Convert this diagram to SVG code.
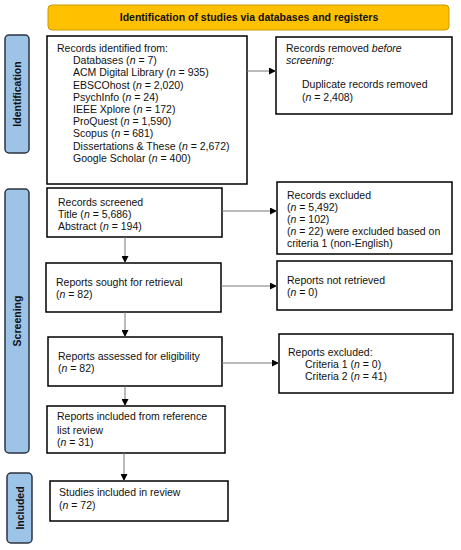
<svg xmlns="http://www.w3.org/2000/svg" width="461" height="550" viewBox="0 0 461 550">
<defs>
<marker id="ah" viewBox="0 0 10 10" refX="10" refY="5" markerWidth="7" markerHeight="7" markerUnits="userSpaceOnUse" orient="auto"><path d="M0,0 L10,5 L0,10 z" fill="#000"/></marker>
<style>
.box{fill:#fff;stroke:#000;stroke-width:1.5}
.side{fill:#9DC3E6;stroke:#2B3440;stroke-width:1.5}
.hdr{fill:#FFC000;stroke:#C99A00;stroke-width:1}
text{font-family:"Liberation Sans",Arial,sans-serif;font-size:10.5px;fill:#111}
.b{font-weight:bold}
.con{stroke:#777;stroke-width:1;fill:none;marker-end:url(#ah)}
</style>
</defs>
<rect width="461" height="550" fill="#fff"/>
<g id="header"><rect class="hdr" x="48" y="5" width="401" height="25" rx="4"/><text class="b" x="249" y="21" text-anchor="middle">Identification of studies via databases and registers</text></g>
<g id="label-identification"><rect class="side" x="5" y="35" width="24" height="118" rx="4"/><text class="b" transform="translate(21,94) rotate(-90)" text-anchor="middle">Identification</text></g>
<g id="label-screening"><rect class="side" x="5" y="189" width="24" height="264" rx="4"/><text class="b" transform="translate(21,321) rotate(-90)" text-anchor="middle">Screening</text></g>
<g id="label-included"><rect class="side" x="7" y="473" width="25" height="70" rx="4"/><text class="b" transform="translate(23.5,508) rotate(-90)" text-anchor="middle">Included</text></g>
<g id="identified"><rect class="box" x="47" y="36" width="200" height="148"/>
<text x="57" y="52">Records identified from:</text>
<text x="73" y="64.2">Databases (<tspan font-style="italic">n</tspan> = 7)</text>
<text x="73" y="76.4">ACM Digital Library (<tspan font-style="italic">n</tspan> = 935)</text>
<text x="73" y="88.6">EBSCOhost (<tspan font-style="italic">n</tspan> = 2,020)</text>
<text x="73" y="100.8">PsychInfo (<tspan font-style="italic">n</tspan> = 24)</text>
<text x="73" y="113">IEEE Xplore (<tspan font-style="italic">n</tspan> = 172)</text>
<text x="73" y="125.2">ProQuest (<tspan font-style="italic">n</tspan> = 1,590)</text>
<text x="73" y="137.4">Scopus (<tspan font-style="italic">n</tspan> = 681)</text>
<text x="73" y="149.6">Dissertations &amp; These (<tspan font-style="italic">n</tspan> = 2,672)</text>
<text x="73" y="161.8">Google Scholar (<tspan font-style="italic">n</tspan> = 400)</text>
</g>
<g id="removed"><rect class="box" x="276" y="37" width="176" height="77"/>
<text x="286" y="52">Records removed <tspan font-style="italic">before</tspan></text>
<text x="286" y="64" font-style="italic">screening:</text>
<text x="302" y="88">Duplicate records removed</text>
<text x="302" y="100.5">(<tspan font-style="italic">n</tspan> = 2,408)</text>
</g>
<g id="screened"><rect class="box" x="47" y="188" width="175" height="49"/>
<text x="58" y="205.5">Records screened</text>
<text x="58" y="217.5">Title (<tspan font-style="italic">n</tspan> = 5,686)</text>
<text x="58" y="229.5">Abstract (<tspan font-style="italic">n</tspan> = 194)</text>
</g>
<g id="excluded"><rect class="box" x="277" y="182" width="175" height="72"/>
<text x="287" y="199">Records excluded</text>
<text x="287" y="211">(<tspan font-style="italic">n</tspan> = 5,492)</text>
<text x="287" y="223">(<tspan font-style="italic">n</tspan> = 102)</text>
<text x="287" y="235">(<tspan font-style="italic">n</tspan> = 22) were excluded based on</text>
<text x="287" y="247">criteria 1 (non-English)</text>
</g>
<g id="sought"><rect class="box" x="46" y="263" width="175" height="49"/>
<text x="56" y="285.5">Reports sought for retrieval</text>
<text x="56" y="298">(<tspan font-style="italic">n</tspan> = 82)</text>
</g>
<g id="not-retrieved"><rect class="box" x="277" y="261" width="175" height="49"/>
<text x="287" y="284">Reports not retrieved</text>
<text x="287" y="295.5">(<tspan font-style="italic">n</tspan> = 0)</text>
</g>
<g id="assessed"><rect class="box" x="48" y="337" width="174" height="49"/>
<text x="58" y="360">Reports assessed for eligibility</text>
<text x="58" y="372">(<tspan font-style="italic">n</tspan> = 82)</text>
</g>
<g id="reports-excluded"><rect class="box" x="279" y="334" width="174" height="59"/>
<text x="288" y="355.5">Reports excluded:</text>
<text x="305" y="368">Criteria 1 (<tspan font-style="italic">n</tspan> = 0)</text>
<text x="305" y="380">Criteria 2 (<tspan font-style="italic">n</tspan> = 41)</text>
</g>
<g id="reference"><rect class="box" x="47" y="406" width="178" height="47"/>
<text x="57" y="420">Reports included from reference</text>
<text x="57" y="434">list review</text>
<text x="57" y="445.5">(<tspan font-style="italic">n</tspan> = 31)</text>
</g>
<g id="studies"><rect class="box" x="50" y="481" width="178" height="40"/>
<text x="59" y="496">Studies included in review</text>
<text x="59" y="509">(<tspan font-style="italic">n</tspan> = 72)</text>
</g>
<g id="connectors">
<line class="con" x1="247" y1="71" x2="276" y2="71"/>
<line class="con" x1="222" y1="211" x2="277" y2="211"/>
<line class="con" x1="221" y1="286" x2="277" y2="286"/>
<line class="con" x1="222" y1="363" x2="279" y2="363"/>
<line class="con" x1="125" y1="237" x2="125" y2="263"/>
<line class="con" x1="125" y1="312" x2="125" y2="337"/>
<line class="con" x1="125" y1="386" x2="125" y2="406"/>
<line class="con" x1="124" y1="453" x2="124" y2="481"/>
</g>
</svg>
